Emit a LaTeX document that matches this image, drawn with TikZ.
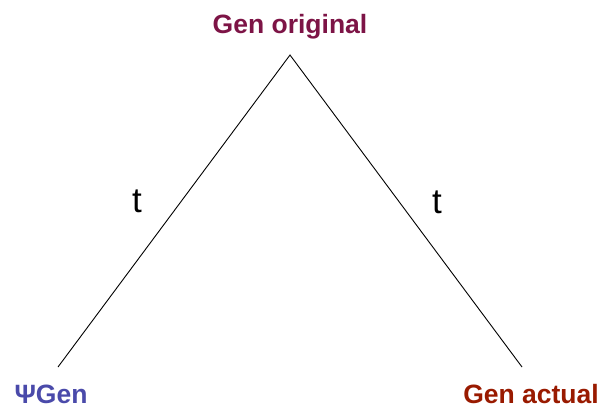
\documentclass[tikz,border=0pt]{standalone}
\usepackage{fontspec}
\setmainfont{Liberation Sans}
\usepackage{xcolor}
\usetikzlibrary{positioning}
\definecolor{genorig}{HTML}{7D1446}
\definecolor{genpsi}{HTML}{4A4AAA}
\definecolor{genact}{HTML}{991A00}

\begin{document}
\begin{tikzpicture}[
        x=1pt, y=-1pt,
        genlabel/.style={anchor=base, inner sep=0pt, font=\fontsize{26.5}{30}\selectfont\bfseries},
        timelabel/.style={inner sep=0pt, font=\fontsize{35}{40}\selectfont},
        branch/.style={draw=black, line width=0.9pt}
        ]
        \useasboundingbox (0,0) rectangle (600,410);

        % Tree points
        \coordinate (top) at (290,55);
        \coordinate (left) at (58,367);
        \coordinate (right) at (522,367);

        % Labels
        \node[genlabel, text=genorig] (orig) at (290,33) {Gen original};
        \node[genlabel, text=genpsi] (psi) at (51,403) {ΨGen};
        \node[genlabel, text=genact] (act) at (531,403) {Gen actual};

        % Branches
        \draw[branch] (left) -- (top) -- (right);
        \node[timelabel] (tleft) at (137,201) {t};
        \node[timelabel] (tright) at (437,202) {t};
    \end{tikzpicture}
\end{document}
